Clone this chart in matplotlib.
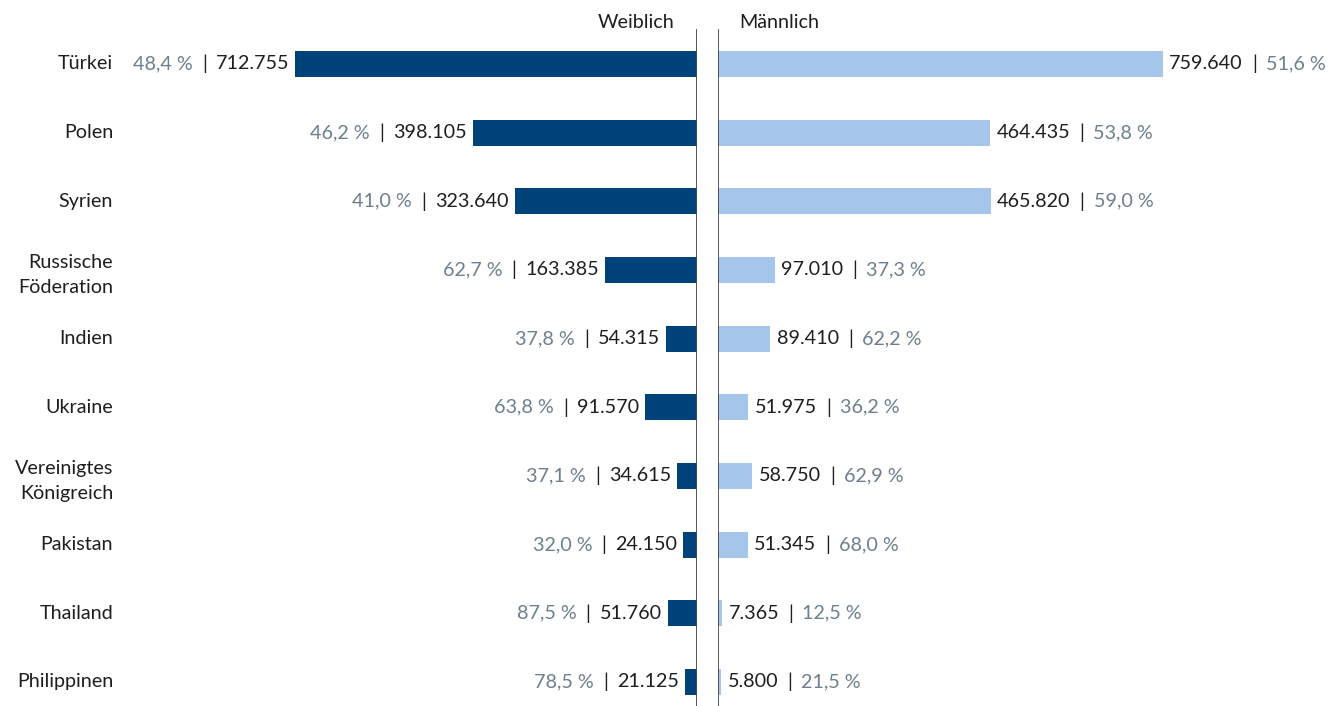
import matplotlib
matplotlib.use("Agg")
import matplotlib.pyplot as plt
from matplotlib.transforms import blended_transform_factory, offset_copy

plt.rcParams['font.family'] = ['Lato', 'DejaVu Sans']

countries = ["Türkei", "Polen", "Syrien", "Russische\nFöderation", "Indien", "Ukraine",
             "Vereinigtes\nKönigreich", "Pakistan", "Thailand", "Philippinen"]
female = [712755, 398105, 323640, 163385, 54315, 91570, 34615, 24150, 51760, 21125]
male = [759640, 464435, 465820, 97010, 89410, 51975, 58750, 51345, 7365, 5800]
female_pct = ["48,4", "46,2", "41,0", "62,7", "37,8", "63,8", "37,1", "32,0", "87,5", "78,5"]
male_pct = ["51,6", "53,8", "59,0", "37,3", "62,2", "36,2", "62,9", "68,0", "12,5", "21,5"]

DARK = "#00427a"
LIGHT = "#a5c5ea"
NUM_C = "#1f1f1f"
PCT_C = "#6e7f8f"
LINE_C = "#4a4a4a"
FS = 14.2
GAP = 6.5  # points between number, separator and share

W, H = 1330, 706
fig = plt.figure(figsize=(W / 100, H / 100), dpi=100)

def fmt(v):
    return f"{v:,}".replace(",", ".")

y = list(range(len(countries)))
ylim = (9.35, -0.932)

# left panel (female), bars grow leftwards from the axis line
ax_l = fig.add_axes([0, 0, 697 / W, 1])
ax_l.set_xlim(697 * 1775, 0)
ax_l.set_ylim(*ylim)
ax_l.barh(y, female, height=0.38, color=DARK)

# right panel (male)
ax_r = fig.add_axes([718 / W, 0, (W - 718) / W, 1])
ax_r.set_xlim(0, (W - 718) * 1707)
ax_r.set_ylim(*ylim)
ax_r.barh(y, male, height=0.38, color=LIGHT)

for ax in (ax_l, ax_r):
    ax.axis("off")

# divider lines
top = 1 - 30 / H
ax_l.axvline(0, ymin=0, ymax=top, color=LINE_C, lw=1.3)
ax_r.axvline(0, ymin=0, ymax=top, color=LINE_C, lw=1.3)

# value labels: "share | count" on the left, "count | share" on the right
for i in y:
    t1 = ax_l.annotate(fmt(female[i]), xy=(female[i], i), xytext=(-4.5, 0),
                       textcoords="offset points", ha="right", va="center",
                       fontsize=FS, color=NUM_C)
    t2 = ax_l.annotate("|", xy=(0, 0.5), xycoords=t1, xytext=(-GAP, 0),
                       textcoords="offset points", ha="right", va="center",
                       fontsize=FS, color=NUM_C)
    ax_l.annotate(f"{female_pct[i]} %", xy=(0, 0.5), xycoords=t2, xytext=(-GAP, 0),
                  textcoords="offset points", ha="right", va="center",
                  fontsize=FS, color=PCT_C)

    s1 = ax_r.annotate(fmt(male[i]), xy=(male[i], i), xytext=(4.5, 0),
                       textcoords="offset points", ha="left", va="center",
                       fontsize=FS, color=NUM_C)
    s2 = ax_r.annotate("|", xy=(1, 0.5), xycoords=s1, xytext=(GAP, 0),
                       textcoords="offset points", ha="left", va="center",
                       fontsize=FS, color=NUM_C)
    ax_r.annotate(f"{male_pct[i]} %", xy=(1, 0.5), xycoords=s2, xytext=(GAP, 0),
                  textcoords="offset points", ha="left", va="center",
                  fontsize=FS, color=PCT_C)

# category labels (two-line names sit slightly lower)
tr = blended_transform_factory(fig.transFigure, ax_l.transData)
tr_low = offset_copy(tr, fig=fig, x=0, y=-5, units="dots")
for i, c in enumerate(countries):
    fig.text(113 / W, i, c, transform=tr_low if "\n" in c else tr,
             ha="right", va="center", fontsize=FS, color=NUM_C, linespacing=1.6)

# column headers
fig.text(674 / W, 1 - 22 / H, "Weiblich", ha="right", va="center",
         fontsize=FS, color=NUM_C)
fig.text(739 / W, 1 - 22 / H, "Männlich", ha="left", va="center",
         fontsize=FS, color=NUM_C)

fig.savefig("out.png", dpi=100, facecolor="white")
